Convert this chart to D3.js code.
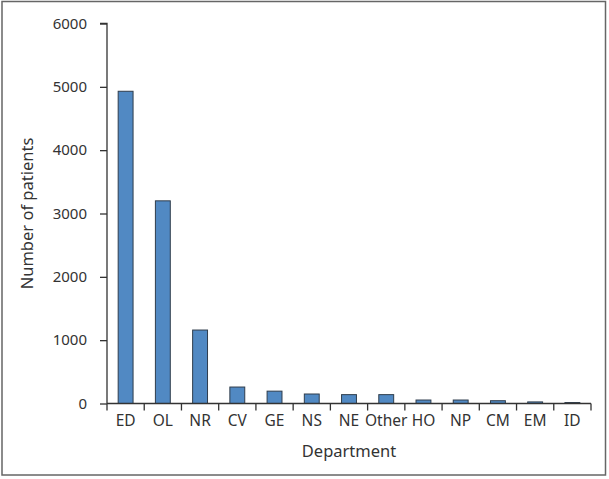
<!DOCTYPE html>
<html>
<head>
<meta charset="utf-8">
<script src="https://cdn.jsdelivr.net/npm/d3@7"></script>
<style>
  html, body { margin: 0; padding: 0; background: #fff; }
  svg text { font-family: "Noto Sans", "DejaVu Sans", sans-serif; fill: #333; }
</style>
</head>
<body>
<svg id="chart" width="609" height="479"></svg>
<script>
const categories = ["ED", "OL", "NR", "CV", "GE", "NS", "NE", "Other", "HO", "NP", "CM", "EM", "ID"];
const values = [4930, 3200, 1160, 260, 195, 150, 140, 140, 55, 55, 44, 25, 15];
const yTicks = [0, 1000, 2000, 3000, 4000, 5000, 6000];
const xTitle = "Department";
const yTitle = "Number of patients";

const svg = d3.select("#chart");
const margin = { left: 107, right: 18, top: 23.5, bottom: 75.5 };

svg.append("rect")
  .attr("x", 2).attr("y", 1.5)
  .attr("width", 603.5).attr("height", 473.5)
  .attr("fill", "#fff").attr("stroke", "#666").attr("stroke-width", 1.5);

const x = d3.scaleBand()
  .domain(categories)
  .range([margin.left, 591])
  .paddingInner(0).paddingOuter(0);

const y = d3.scaleLinear()
  .domain([0, 6000])
  .range([403.5, 23.5]);

// bars
const bw = x.bandwidth() * 0.4;
svg.append("g").selectAll("rect")
  .data(categories)
  .join("rect")
  .attr("x", (d) => x(d) + x.bandwidth() / 2 - bw / 2)
  .attr("y", (d, i) => y(values[i]))
  .attr("width", bw)
  .attr("height", (d, i) => y(0) - y(values[i]))
  .attr("fill", "#5189c3")
  .attr("stroke", "#2f3d4c")
  .attr("stroke-width", 1);

// y axis
const yAxis = d3.axisLeft(y).tickValues(yTicks).tickFormat(d3.format("d")).tickSize(7).tickPadding(13);
const gy = svg.append("g").attr("transform", `translate(${margin.left},0)`).call(yAxis);
gy.select(".domain").attr("d", `M${-7},${y(6000)}H0V${y(0)}`).attr("stroke", "#333").attr("stroke-width", 1.3);
gy.selectAll(".tick line").attr("stroke", "#333").attr("stroke-width", 1.3);
gy.selectAll(".tick text").style("font-size", "15px").attr("fill", "#333");

// x axis
const gx = svg.append("g").attr("transform", `translate(0,${y(0)})`);
gx.append("line")
  .attr("x1", margin.left).attr("x2", 591)
  .attr("y1", 0).attr("y2", 0)
  .attr("stroke", "#333").attr("stroke-width", 1.3);
const bounds = categories.map((c) => x(c)).concat([x(categories[categories.length - 1]) + x.bandwidth()]);
gx.selectAll("line.tk")
  .data(bounds)
  .join("line")
  .attr("class", "tk")
  .attr("x1", (d) => d).attr("x2", (d) => d)
  .attr("y1", 0).attr("y2", 7)
  .attr("stroke", "#333").attr("stroke-width", 1.3);
gx.selectAll("text")
  .data(categories)
  .join("text")
  .attr("x", (d) => x(d) + x.bandwidth() / 2)
  .attr("y", 22)
  .attr("text-anchor", "middle")
  .style("font-size", "15.5px")
  .text((d) => d);

svg.append("text")
  .attr("x", (margin.left + 591) / 2)
  .attr("y", 457)
  .attr("text-anchor", "middle")
  .style("font-size", "16.5px")
  .text(xTitle);

svg.append("text")
  .attr("transform", `translate(33,${(y(0) + y(6000)) / 2}) rotate(-90)`)
  .attr("text-anchor", "middle")
  .style("font-size", "16.5px")
  .text(yTitle);
</script>
</body>
</html>
